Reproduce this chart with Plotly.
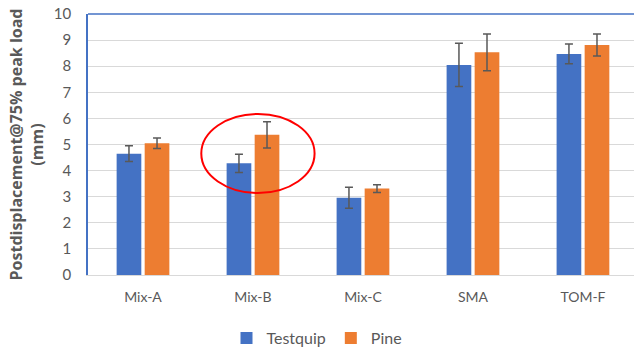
import plotly.graph_objects as go

categories = ["Mix-A", "Mix-B", "Mix-C", "SMA", "TOM-F"]
testquip = [4.65, 4.28, 2.96, 8.05, 8.47]
testquip_err = [0.30, 0.35, 0.40, 0.83, 0.38]
pine = [5.05, 5.37, 3.31, 8.53, 8.81]
pine_err = [0.20, 0.50, 0.15, 0.70, 0.42]
y_ticks = list(range(0, 11))

# highlight ring around Mix-B (category index, value bounds)
ring_x = (0.53, 1.56)
ring_y = (3.14, 6.17)

FONT = "Lato, 'Open Sans', sans-serif"
GREY = "#595959"

fig = go.Figure()
fig.add_trace(go.Bar(
    name="Testquip", x=list(range(len(categories))), y=testquip,
    marker=dict(color="#4472C4", line=dict(width=0)),
    error_y=dict(type="data", array=testquip_err, color=GREY, thickness=1.5, width=4),
))
fig.add_trace(go.Bar(
    name="Pine", x=list(range(len(categories))), y=pine,
    marker=dict(color="#ED7D31", line=dict(width=0)),
    error_y=dict(type="data", array=pine_err, color=GREY, thickness=1.5, width=4),
))

fig.add_shape(type="circle", xref="x", yref="y",
              x0=ring_x[0], x1=ring_x[1], y0=ring_y[0], y1=ring_y[1],
              line=dict(color="#FF0000", width=2))
# top border of the plot area
fig.add_shape(type="line", xref="paper", yref="paper", x0=0, x1=1, y0=1, y1=1,
              line=dict(color="#4472C4", width=1.5))

fig.update_layout(
    width=634, height=347,
    margin=dict(l=88, r=0, t=14, b=72),
    paper_bgcolor="white", plot_bgcolor="white",
    barmode="group", bargap=0.49, bargroupgap=0.12,
    font=dict(family=FONT, color=GREY, size=14),
    showlegend=True,
    legend=dict(orientation="h", xref="container", yref="container",
                x=0.5, xanchor="center", y=0.026, yanchor="middle",
                font=dict(size=16, color=GREY), itemwidth=30,
                traceorder="normal"),
    xaxis=dict(
        tickmode="array", tickvals=list(range(len(categories))), ticktext=categories,
        range=[-0.5, 4.464], showgrid=False, zeroline=False,
        showline=True, linecolor="#D9D9D9", linewidth=1,
        ticks="", tickfont=dict(size=14, color=GREY), ticklabelstandoff=9,
    ),
    yaxis=dict(
        range=[0, 10], tickvals=y_ticks, showgrid=True, gridcolor="#D9D9D9",
        gridwidth=1, zeroline=False, showline=True, linecolor="#4472C4",
        linewidth=1.5, ticks="", tickfont=dict(size=15, color=GREY),
        ticklabelstandoff=12,
        title=dict(text="<b>Postdisplacement@75% peak load<br>(mm)</b>",
                   font=dict(family="'Open Sans', sans-serif", size=16, color=GREY),
                   standoff=6),
    ),
)

fig.write_html("out.html")
